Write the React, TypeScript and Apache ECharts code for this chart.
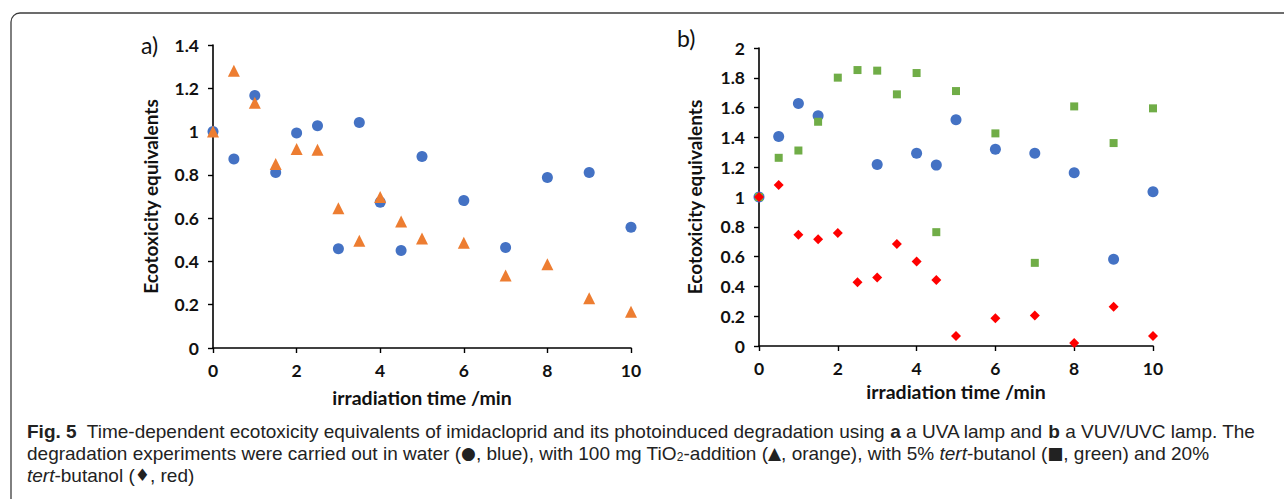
import React, { useEffect, useRef } from "react";
import * as echarts from "echarts";

const timesA = [0, 0.5, 1, 1.5, 2, 2.5, 3, 3.5, 4, 4.5, 5, 6, 7, 8, 9, 10];
const waterA = [1.0, 0.873, 1.167, 0.811, 0.993, 1.027, 0.459, 1.042, 0.674, 0.45, 0.885, 0.681, 0.464, 0.788, 0.811, 0.558];
const tio2A = [1.0, 1.281, 1.133, 0.85, 0.919, 0.916, 0.646, 0.495, 0.698, 0.584, 0.506, 0.486, 0.335, 0.387, 0.23, 0.167];

const timesBWater = [0, 0.5, 1, 1.5, 3, 4, 4.5, 5, 6, 7, 8, 9, 10];
const waterB = [1.0, 1.406, 1.628, 1.545, 1.218, 1.294, 1.214, 1.518, 1.321, 1.294, 1.162, 0.582, 1.035];
const timesB = [0, 0.5, 1, 1.5, 2, 2.5, 3, 3.5, 4, 4.5, 5, 6, 7, 8, 9, 10];
const butanol5B = [1.0, 1.263, 1.312, 1.505, 1.801, 1.852, 1.848, 1.689, 1.832, 0.764, 1.711, 1.427, 0.558, 1.608, 1.362, 1.595];
const butanol20B = [1.0, 1.08, 0.746, 0.717, 0.759, 0.428, 0.459, 0.685, 0.567, 0.443, 0.067, 0.186, 0.204, 0.02, 0.264, 0.067];

const xTitle = "irradiation time /min";
const yTitle = "Ecotoxicity equivalents";
const captionLine1 =
  "{b|Fig. 5}  Time-dependent ecotoxicity equivalents of imidacloprid and its photoinduced degradation using {b|a} a UVA lamp and {b|b} a VUV/UVC lamp. The";
const captionLine2 =
  "degradation experiments were carried out in water ({s|●}, blue), with 100 mg TiO{sub|2}-addition ({s|▲}, orange), with 5% {i|tert}-butanol ({s|■}, green) and 20%";
const captionLine3 = "{i|tert}-butanol ({s|♦}, red)";

const BLUE = "#4472C4";
const ORANGE = "#ED7D31";
const GREEN = "#70AD47";
const RED = "#FF0000";

const pair = (xs: number[], ys: number[]) => xs.map((x, i) => [x, ys[i]]);

const chartFont = "Lato";
const capFont = "Liberation Sans";
const CAP = 19;
const LH = 20;

function xAxisCfg(gridIndex: number, gap: number) {
  return {
    type: "value",
    gridIndex,
    min: 0,
    max: 10,
    interval: 2,
    name: xTitle,
    nameLocation: "middle",
    nameGap: gap,
    nameTextStyle: { fontFamily: chartFont, fontWeight: "bold", fontSize: 19.5, color: "#111" },
    axisLine: { show: true, onZero: false, lineStyle: { color: "#000", width: 1.6 } },
    axisTick: { show: true, length: 5, lineStyle: { color: "#000", width: 1.4 } },
    axisLabel: { fontFamily: chartFont, fontWeight: "bold", fontSize: 17.5, color: "#111", margin: 13 },
    splitLine: { show: false },
  };
}

function yAxisCfg(gridIndex: number, max: number, gap: number) {
  return {
    type: "value",
    gridIndex,
    min: 0,
    max,
    interval: 0.2,
    name: yTitle,
    nameLocation: "middle",
    nameGap: gap,
    nameTextStyle: { fontFamily: chartFont, fontWeight: "bold", fontSize: 19, color: "#111" },
    axisLine: { show: true, onZero: false, lineStyle: { color: "#000", width: 1.6 } },
    axisTick: { show: true, length: 5, lineStyle: { color: "#000", width: 1.4 } },
    axisLabel: {
      fontFamily: chartFont,
      fontWeight: "bold",
      fontSize: 17.5,
      color: "#111",
      margin: 14,
      formatter: (v: number) => String(parseFloat(v.toFixed(1))),
    },
    splitLine: { show: false },
  };
}

export default function App() {
  const ref = useRef<HTMLDivElement>(null);
  useEffect(() => {
    document.body.style.margin = "0";
    const chart = echarts.init(ref.current!, undefined, { renderer: "svg" });
    const capRich = {
      b: { fontWeight: "bold", fontFamily: capFont, fontSize: CAP, lineHeight: LH, color: "#222" },
      i: { fontStyle: "italic", fontFamily: capFont, fontSize: CAP, lineHeight: LH, color: "#222" },
      s: { fontFamily: "DejaVu Sans", fontSize: 17, lineHeight: LH, color: "#111" },
      sub: { fontFamily: capFont, fontSize: 12, lineHeight: 12, padding: [8, 0, 0, 0], color: "#222" },
    };
    const capStyle = (text: string, y: number) => ({
      type: "text",
      left: 27,
      top: y,
      silent: true,
      style: {
        text,
        fontFamily: capFont,
        fontSize: CAP,
        lineHeight: LH,
        fill: "#222",
        rich: capRich,
      },
    });
    const sc = { opacity: 1 };
    chart.setOption({
      animation: false,
      backgroundColor: "#fff",
      grid: [
        { left: 213, top: 45, width: 418, height: 303 },
        { left: 759, top: 48, width: 394, height: 298 },
      ],
      xAxis: [xAxisCfg(0, 39), xAxisCfg(1, 30)],
      yAxis: [yAxisCfg(0, 1.4, 53.5), yAxisCfg(1, 2, 55.5)],
      series: [
        { type: "scatter", name: "water", xAxisIndex: 0, yAxisIndex: 0, data: pair(timesA, waterA), symbol: "circle", symbolSize: 11, itemStyle: { color: BLUE, ...sc } },
        { type: "scatter", name: "TiO2", xAxisIndex: 0, yAxisIndex: 0, data: pair(timesA, tio2A), symbol: "triangle", symbolSize: 12, itemStyle: { color: ORANGE, ...sc } },
        { type: "scatter", name: "water", xAxisIndex: 1, yAxisIndex: 1, data: pair(timesBWater, waterB), symbol: "circle", symbolSize: 11, itemStyle: { color: BLUE, ...sc } },
        { type: "scatter", name: "5% tert-butanol", xAxisIndex: 1, yAxisIndex: 1, data: pair(timesB, butanol5B), symbol: "rect", symbolSize: 8, itemStyle: { color: GREEN, ...sc } },
        { type: "scatter", name: "20% tert-butanol", xAxisIndex: 1, yAxisIndex: 1, data: pair(timesB, butanol20B), symbol: "diamond", symbolSize: 10, itemStyle: { color: RED, ...sc } },
      ],
      graphic: [
        {
          type: "rect",
          silent: true,
          shape: { x: 11, y: 13, width: 1400, height: 600, r: 9 },
          style: { fill: "none", stroke: "#3c3c3c", lineWidth: 1.3 },
        },
        { type: "text", left: 141, top: 33, silent: true, style: { text: "a)", fontFamily: chartFont, fontSize: 23, fill: "#111" } },
        { type: "text", left: 677, top: 26, silent: true, style: { text: "b)", fontFamily: chartFont, fontSize: 23, fill: "#111" } },
        capStyle(captionLine1, 421.5),
        capStyle(captionLine2, 443.4),
        capStyle(captionLine3, 465.3),
      ],
    });
    return () => chart.dispose();
  }, []);
  return <div ref={ref} style={{ width: 1284, height: 499 }} />;
}
